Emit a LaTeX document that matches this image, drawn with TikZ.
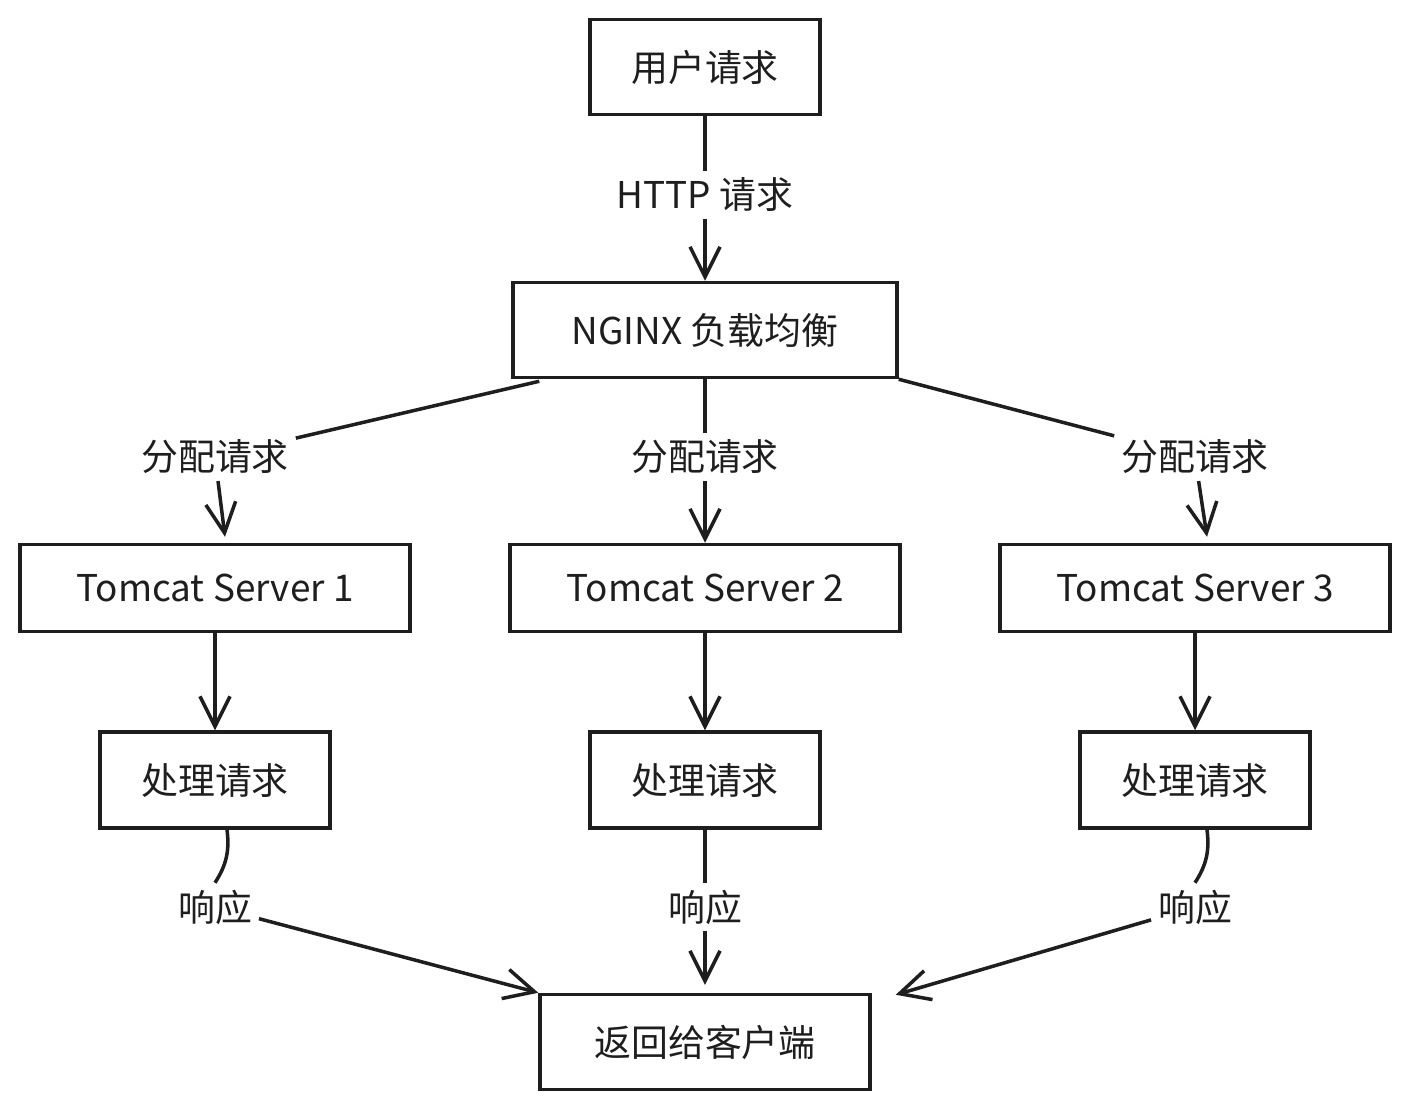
\documentclass[tikz,border=0pt]{standalone}
\usepackage{fontspec}
\setmainfont{Noto Sans CJK SC}
\usetikzlibrary{arrows.meta,calc,positioning}
\definecolor{ink}{HTML}{1E1E1E}
\tikzset{
  flow schemes/.style = {
    line width    = 2pt,
    every node/.style = {font=\fontsize{21}{25}\selectfont, text=ink},
    % Блоки
    box/.style  = {
      draw=ink, line width=2pt,
      minimum width=4.6cm,
      minimum height=1.9cm
    },
    wide box/.style = { box, minimum width=7.8cm, minimum height=1.74cm},
    % Подписи
    lbl/.style = { inner sep=3pt },
    % Линии, стрелки
    flow line/.style = {draw=ink, line width=2pt,
      -{Straight Barb[length=6mm,width=6mm,line width=2pt]}},
  }
}
\begin{document}
\begin{tikzpicture}[x=0.02cm, y=-0.02cm, flow schemes]
\useasboundingbox (0,0) rectangle (1410,1110);

\node[box] (user) at (705,67) {用户请求};
\node[box, minimum width=7.68cm] (nginx) at (705,330) {NGINX 负载均衡};
\node[box, minimum width=6.6cm] (back) at (705,1042) {返回给客户端};

\node[lbl] (http) at (705,195) {HTTP 请求};
\draw[flow line] (user) -- (http) -- (nginx);

\foreach \i/\x in {1/215,2/705,3/1195} {
  \node[wide box] (tc\i) at (\x,588) {Tomcat Server \i};
  \node[box, minimum height=1.92cm] (proc\i) at (\x,780) {处理请求};
  \node[lbl] (dist\i) at (\x,457) {分配请求};
  \node[lbl] (resp\i) at (\x,907) {响应};
  \draw[flow line] (tc\i) -- (proc\i);
}

%---------------------------------------------
\draw[flow line] ($(nginx.south west)+(28,2)$) -- (dist1) -- ($(tc1.north)+(10,-6)$);
\draw[flow line] (nginx) -- (dist2) -- (tc2);
\draw[flow line] (nginx.south east) -- (dist3) -- ($(tc3.north)+(12,-6)$);

\draw[flow line] ($(proc1.south)+(12,0)$) to[bend left=20] (resp1.north) (resp1) -- (back.north west);
\draw[flow line] (proc2) -- (resp2) -- ($(back.north)+(0,-8)$);
\draw[flow line] ($(proc3.south)+(12,0)$) to[bend left=20] (resp3.north) (resp3) -- ($(back.north east)+(24,2)$);
\end{tikzpicture}
\end{document}
